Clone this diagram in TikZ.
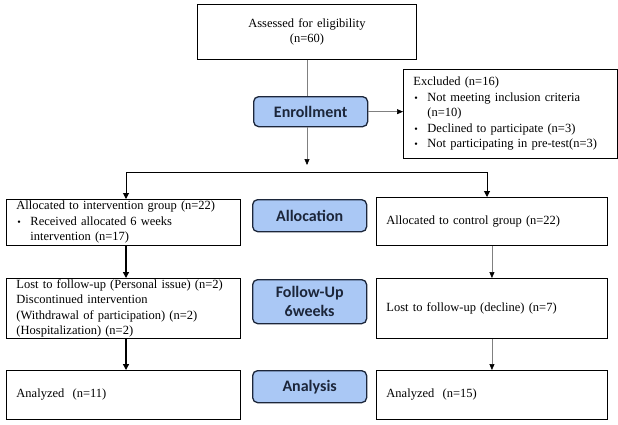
\documentclass[tikz,border=0pt]{standalone}
\usepackage{fontspec}
\setmainfont{Liberation Serif}
\setsansfont{Carlito}
\usetikzlibrary{arrows.meta, positioning}

\definecolor{stagefill}{RGB}{170,200,245}
\definecolor{stageline}{RGB}{28,38,58}
\newcommand{\bul}{\makebox[14pt][l]{\hspace{1pt}\fontsize{10}{10}\selectfont\textbullet}}

\begin{document}
\begin{tikzpicture}[x=1pt, y=-1pt,
    txtbox/.style={draw, line width=0.9pt, anchor=north west, align=left, inner xsep=10pt, inner ysep=1pt, font=\fontsize{12.5}{15.5}\selectfont},
    stagebox/.style={draw=stageline, fill=stagefill, line width=1.3pt, rounded corners=5pt, anchor=north west, minimum width=114pt, align=center, text=stageline, font=\sffamily\bfseries\fontsize{16}{19}\selectfont},
    greyarrow/.style={draw=gray, line width=0.6pt, -{Triangle[length=6pt, width=5pt, color=black]}},
    blackarrow/.style={line width=1.3pt, -{Triangle[length=6pt, width=6pt]}}
]
\useasboundingbox (0,0) rectangle (618,424);

% Screening
\node[txtbox, align=center, text width=199pt, minimum height=55pt] (assess) at (197,4) {Assessed for eligibility\\(n=60)};
\node[stagebox, minimum height=30pt] (enrol) at (253,96) {Enrollment};
\node[txtbox, text width=194pt, minimum height=89pt] (excl) at (403,69) {Excluded (n=16)\\
    \bul Not meeting inclusion criteria\\
    \hspace*{14pt}(n=10)\\
    \bul Declined to participate (n=3)\\
    \bul Not participating in pre-test(n=3)};

% Allocation
\node[stagebox, minimum height=32pt] (alloc) at (252,199) {Allocation};
\node[txtbox, text width=214pt, minimum height=46pt] (interv) at (6,199) {Allocated to intervention group (n=22)\\
    \bul Received allocated 6 weeks\\
    \hspace*{14pt}intervention (n=17)};
\node[txtbox, text width=211pt, minimum height=48pt] (control) at (376,197) {Allocated to control group (n=22)};

% Follow-up
\node[stagebox, minimum height=44pt] (follow) at (252,279) {Follow-Up\\6weeks};
\node[txtbox, text width=214pt, minimum height=60pt, inner ysep=0pt] (lostint) at (6,278) {Lost to follow-up (Personal issue) (n=2)\\
    Discontinued intervention\\
    (Withdrawal of participation) (n=2)\\
    (Hospitalization) (n=2)};
\node[txtbox, text width=211pt, minimum height=60pt] (lostctl) at (376,278) {Lost to follow-up (decline) (n=7)};

% Analysis
\node[stagebox, minimum height=32pt] (analysis) at (252,370) {Analysis};
\node[txtbox, text width=214pt, minimum height=49pt] (anaint) at (6,370) {Analyzed\ \ (n=11)};
\node[txtbox, text width=211pt, minimum height=49pt] (anactl) at (376,370) {Analyzed\ \ (n=15)};

% Connectors
\coordinate (gap) at (307,165);
\coordinate (lft) at (126,172);
\coordinate (rgt) at (487,172);
\draw[draw=gray, line width=0.6pt] (assess.south -| gap) -- (enrol.north -| gap);
\draw[greyarrow] (enrol.south -| gap) -- (gap);
\draw[greyarrow] (enrol.east) -- (enrol.east -| excl.west);
\draw[line width=1pt] (lft) -- (rgt);
\draw[line width=1pt, -{Triangle[length=6pt, width=6pt]}] (lft) -- (lft |- interv.north);
\draw[line width=1pt, -{Triangle[length=6pt, width=6pt]}] (rgt) -- (rgt |- control.north);
\draw[blackarrow] (interv.south -| lft) -- (lostint.north -| lft);
\draw[blackarrow] (lostint.south -| lft) -- (anaint.north -| lft);
\draw[greyarrow] (control.south) -- (lostctl.north);
\draw[greyarrow] (lostctl.south) -- (anactl.north);
\end{tikzpicture}
\end{document}
